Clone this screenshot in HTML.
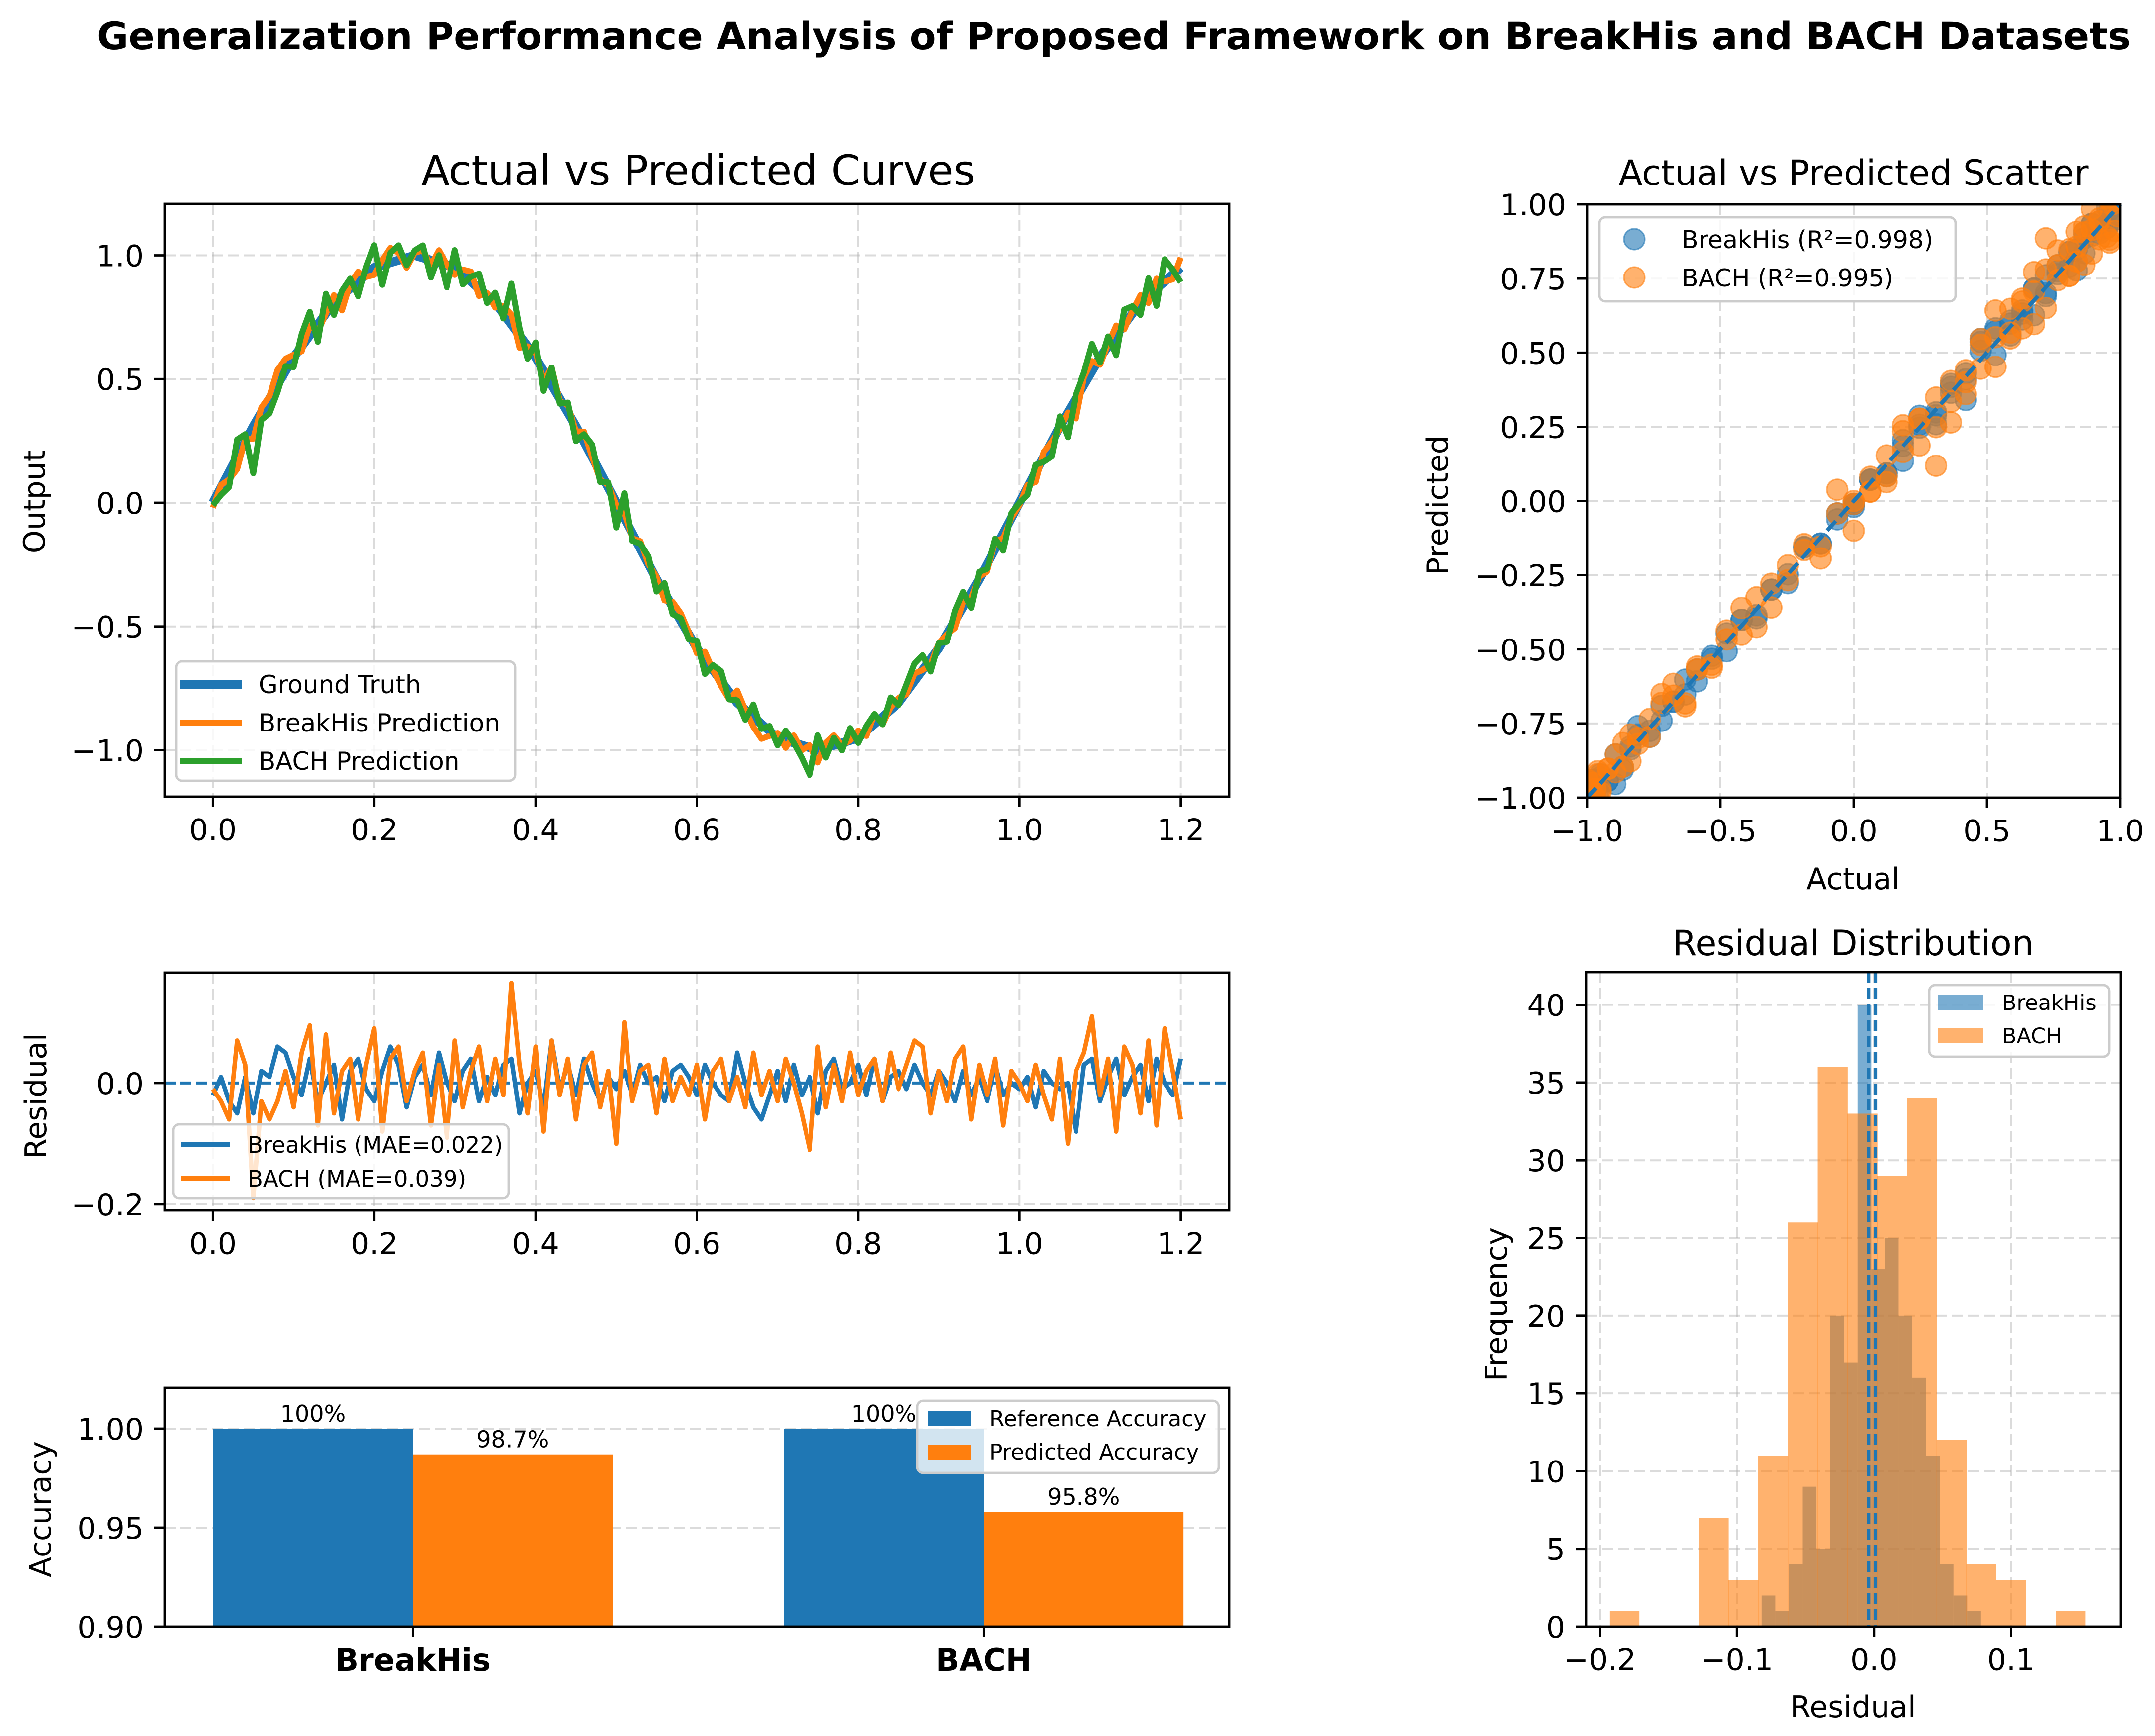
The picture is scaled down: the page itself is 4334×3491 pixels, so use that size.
<!DOCTYPE html>
<html><head><meta charset="utf-8"><title>Generalization Performance Analysis</title>
<style>html,body{margin:0;padding:0;background:#fff;}svg{display:block;font-family:"DejaVu Sans","Liberation Sans",sans-serif;}</style>
</head><body>
<svg id="chart" xmlns="http://www.w3.org/2000/svg" width="4334" height="3491" viewBox="0 0 4334 3491">
<rect x="0" y="0" width="4334" height="3491" fill="#fff"/>
</svg>
<script>
// ---- data ----
const truthVals = [0,0.309,0.588,0.809,0.951,1,0.951,0.809,0.588,0.309,0,-0.309,-0.588,-0.809,-0.951,-1,-0.951,-0.809,-0.588,-0.309,0,0.309,0.588,0.809,0.951];
const truthXMax = 1.2;
const residBreakHis = [-0.02,0.01,-0.03,-0.05,0.01,-0.05,0.02,0.01,0.06,0.05,0.01,-0.02,0.04,-0.03,0.0,0.03,-0.06,0.02,0.04,-0.01,-0.03,0.02,0.06,0.03,-0.04,0.01,0.03,-0.02,0.05,0.0,-0.03,0.02,0.04,-0.03,0.01,-0.02,0.03,0.04,-0.05,0.0,0.02,-0.04,0.07,-0.01,0.03,-0.02,0.04,0.0,-0.03,0.01,-0.01,0.02,-0.02,0.03,0.0,0.01,-0.03,0.02,0.03,0.01,-0.02,0.03,0.0,-0.02,-0.03,0.05,0.0,-0.04,-0.06,-0.02,0.02,-0.03,0.03,-0.02,0.01,-0.05,0.02,0.04,-0.01,0.0,0.03,-0.02,0.04,-0.03,0.01,0.02,-0.01,0.03,0.0,-0.02,0.02,0.0,-0.03,0.02,-0.02,0.01,-0.03,0.03,-0.02,0.0,-0.01,0.01,-0.04,0.02,0.0,-0.01,0.0,-0.08,0.03,0.04,-0.03,0.01,0.04,-0.02,0.01,0.03,-0.03,0.04,0.0,-0.02,0.04];
const residBACH = [-0.01,-0.03,-0.06,0.07,0.03,-0.19,-0.03,-0.06,-0.03,0.02,-0.04,0.05,0.095,-0.07,0.08,-0.05,0.02,0.04,-0.06,0.03,0.09,-0.08,0.04,0.06,-0.03,0.02,0.05,-0.07,0.03,-0.09,0.07,-0.04,0.02,0.06,-0.03,0.04,-0.02,0.165,0.03,-0.05,0.06,-0.08,0.07,-0.02,0.04,-0.06,0.03,0.05,-0.04,0.02,-0.1,0.1,-0.03,0.02,0.03,-0.05,0.04,-0.03,0.01,-0.02,0.03,-0.06,0.02,0.04,-0.03,0.01,-0.04,0.05,-0.02,0.02,-0.03,0.04,0.0,-0.05,-0.11,0.06,-0.04,0.03,-0.03,0.05,-0.02,0.02,0.04,-0.03,0.05,-0.01,0.03,0.07,0.06,-0.05,0.02,-0.03,0.04,0.06,-0.06,0.03,-0.02,0.04,-0.07,0.02,0.0,-0.03,0.03,-0.02,-0.06,0.04,-0.1,0.02,0.05,0.11,-0.02,0.04,-0.08,0.06,0.03,-0.05,0.07,-0.07,0.09,0.02,-0.06];
const barCategories = ["BreakHis","BACH"];
const refAccuracy = [1.0,1.0];
const predAccuracy = [0.987,0.958];
const refLabels = ["100%","100%"];
const predLabels = ["98.7%","95.8%"];
const histBACHStart = -0.193, histBACHWidth = 0.0217;
const histBACHCounts = [1,0,0,7,3,11,26,36,33,29,34,12,4,3,0,1];
const histBHStart = -0.082, histBHWidth = 0.0100;
const histBHCounts = [2,1,4,9,5,20,17,40,23,25,20,16,11,4,2,1];
const histMeans = [-0.004,0.001];
const curveXTicks = [0,0.2,0.4,0.6,0.8,1.0,1.2];
const curveXLabels = ["0.0","0.2","0.4","0.6","0.8","1.0","1.2"];
const curveYTicks = [-1,-0.5,0,0.5,1];
const curveYLabels = ["\u22121.0","\u22120.5","0.0","0.5","1.0"];
const residYTicks = [-0.2,0];
const residYLabels = ["\u22120.2","0.0"];
const barYTicks = [0.90,0.95,1.00];
const barYLabels = ["0.90","0.95","1.00"];
const scXTicks = [-1,-0.5,0,0.5,1];
const scXLabels = ["\u22121.0","\u22120.5","0.0","0.5","1.0"];
const scYTicks = [-1,-0.75,-0.5,-0.25,0,0.25,0.5,0.75,1];
const scYLabels = ["\u22121.00","\u22120.75","\u22120.50","\u22120.25","0.00","0.25","0.50","0.75","1.00"];
const hXTicks = [-0.2,-0.1,0,0.1];
const hXLabels = ["\u22120.2","\u22120.1","0.0","0.1"];
const hYTicks = [0,5,10,15,20,25,30,35,40];
const hYLabels = ["0","5","10","15","20","25","30","35","40"];

// ---- helpers ----
const NS = "http://www.w3.org/2000/svg";
const svg = document.getElementById('chart');
const BLUE = "#1f77b4", ORANGE = "#ff7f0e", GREEN = "#2ca02c";
function mk(tag, attrs, parent){const e=document.createElementNS(NS,tag);for(const k in attrs)e.setAttribute(k,attrs[k]);(parent||svg).appendChild(e);return e;}
function txt(s, attrs, parent){const e=mk('text',attrs,parent);e.textContent=s;return e;}
function axes(box, xd, yd){return {box, x:v=>box.l+(v-xd[0])/(xd[1]-xd[0])*(box.r-box.l), y:v=>box.b-(v-yd[0])/(yd[1]-yd[0])*(box.b-box.t)};}
function truthAt(x){const n=truthVals.length-1;const f=x/truthXMax*n;let i=Math.floor(f);if(i>=n)i=n-1;if(i<0)i=0;const t=f-i;return truthVals[i]*(1-t)+truthVals[i+1]*t;}
function clip(id, box){const c=mk('clipPath',{id});mk('rect',{x:box.l,y:box.t,width:box.r-box.l,height:box.b-box.t},c);return `url(#${id})`;}
const GRID = {stroke:"#b0b0b0","stroke-opacity":0.45,"stroke-width":4,"stroke-dasharray":"22,10",fill:"none"};
function xgrid(ax, ticks, g){for(const t of ticks){const l=mk('line',Object.assign({x1:ax.x(t),x2:ax.x(t),y1:ax.box.t,y2:ax.box.b},GRID),g);

}}
function ygrid(ax, ticks, g){for(const t of ticks){const l=mk('line',Object.assign({y1:ax.y(t),y2:ax.y(t),x1:ax.box.l,x2:ax.box.r},GRID),g);

}}
function frame(ax, g){const r=mk('rect',{x:ax.box.l,y:ax.box.t,width:ax.box.r-ax.box.l,height:ax.box.b-ax.box.t,fill:"none",stroke:"#000","stroke-width":4.8},g);

}
function xticks(ax, ticks, labels, g, fs, bold){const gg=mk('g',{},g);


ticks.forEach((t,i)=>{mk('line',{x1:ax.x(t),x2:ax.x(t),y1:ax.box.b,y2:ax.box.b+21,stroke:"#000","stroke-width":4.8},gg);
const tl=txt(labels[i],{x:ax.x(t),y:ax.box.b+42+(fs||60)*0.76,"font-size":fs||60,"text-anchor":"middle","font-weight":bold?"bold":"normal"},gg);

});}
function yticks(ax, ticks, labels, g){const gg=mk('g',{},g);


ticks.forEach((t,i)=>{mk('line',{x1:ax.box.l-21,x2:ax.box.l,y1:ax.y(t),y2:ax.y(t),stroke:"#000","stroke-width":4.8},gg);
const tl=txt(labels[i],{x:ax.box.l-42,y:ax.y(t)+22,"font-size":60,"text-anchor":"end"},gg);

});}
function ylabel(s, x, y, name){const t=txt(s,{x:x,y:y,"font-size":60,"text-anchor":"middle","dominant-baseline":"central",transform:`rotate(-90 ${x} ${y})`});

}
function legendBox(x,y,w,h,g){const r=mk('rect',{x,y,width:w,height:h,rx:12,fill:"#fff","fill-opacity":0.8,stroke:"#cccccc","stroke-width":4.8},g);

}
function path(pts){return pts.map((p,i)=>(i?'L':'M')+p[0].toFixed(1)+' '+p[1].toFixed(1)).join(' ');}

// ---- main title ----
const mt=txt("Generalization Performance Analysis of Proposed Framework on BreakHis and BACH Datasets",{x:2240,y:99,"font-size":76,"font-weight":"bold","text-anchor":"middle",textLength:4090,lengthAdjust:"spacingAndGlyphs"});



// ---- panel A: curves ----
(function(){
const g=mk('g',{});


const ax=axes({l:331,r:2472,t:410,b:1602},[-0.06,1.26],[-1.188,1.208]);
xgrid(ax,curveXTicks,g);ygrid(ax,curveYTicks,g);
const cp=clip('clipA',ax.box);
const tp=truthVals.map((v,i)=>[ax.x(i/(truthVals.length-1)*truthXMax),ax.y(v)]);
const l1=mk('path',{d:path(tp),fill:"none",stroke:BLUE,"stroke-width":18,"stroke-linejoin":"round","clip-path":cp},g);


const bp=residBreakHis.map((r,i)=>{const x=i/(residBreakHis.length-1)*truthXMax;return [ax.x(x),ax.y(truthAt(x)+r)];});
const l2=mk('path',{d:path(bp),fill:"none",stroke:ORANGE,"stroke-width":12,"stroke-linejoin":"round","clip-path":cp},g);


const cpts=residBACH.map((r,i)=>{const x=i/(residBACH.length-1)*truthXMax;return [ax.x(x),ax.y(truthAt(x)+r)];});
const l3=mk('path',{d:path(cpts),fill:"none",stroke:GREEN,"stroke-width":12,"stroke-linejoin":"round","clip-path":cp},g);


frame(ax,g);xticks(ax,curveXTicks,curveXLabels,g);yticks(ax,curveYTicks,curveYLabels,g);
const t=txt("Actual vs Predicted Curves",{x:1404,y:372,"font-size":84,"text-anchor":"middle",textLength:1114,lengthAdjust:"spacingAndGlyphs"},g);


ylabel("Output",70,1009,'curves-y-axis-title');
const lg=mk('g',{},g);


legendBox(354,1330,682,240,lg);
[["Ground Truth",BLUE,18,1376],["BreakHis Prediction",ORANGE,12,1453],["BACH Prediction",GREEN,12,1530]].forEach(e=>{
mk('line',{x1:362,x2:486,y1:e[3],y2:e[3],stroke:e[1],"stroke-width":e[2]},lg);
const tt=txt(e[0],{x:520,y:e[3]+18,"font-size":50},lg);

});
})();

// ---- panel B: residuals ----
(function(){
const g=mk('g',{});


const ax=axes({l:331,r:2472,t:1956,b:2434},[-0.06,1.26],[-0.210,0.182]);
xgrid(ax,curveXTicks,g);ygrid(ax,residYTicks,g);
const cp=clip('clipB',ax.box);
const z=mk('line',{x1:ax.box.l,x2:ax.box.r,y1:ax.y(0),y2:ax.y(0),stroke:BLUE,"stroke-width":6,"stroke-dasharray":"22,10"},g);


const bp=residBreakHis.map((r,i)=>[ax.x(i/(residBreakHis.length-1)*truthXMax),ax.y(r)]);
const l1=mk('path',{d:path(bp),fill:"none",stroke:BLUE,"stroke-width":9,"stroke-linejoin":"round","clip-path":cp},g);


const op=residBACH.map((r,i)=>[ax.x(i/(residBACH.length-1)*truthXMax),ax.y(r)]);
const l2=mk('path',{d:path(op),fill:"none",stroke:ORANGE,"stroke-width":9,"stroke-linejoin":"round","clip-path":cp},g);


frame(ax,g);xticks(ax,curveXTicks,curveXLabels,g);yticks(ax,residYTicks,residYLabels,g);
ylabel("Residual",73,2204,'residual-y-axis-title');
const lg=mk('g',{},g);


legendBox(348,2261,675,149,lg);
[["BreakHis (MAE=0.022)",BLUE,2302],["BACH (MAE=0.039)",ORANGE,2370]].forEach(e=>{
mk('line',{x1:365,x2:463,y1:e[2],y2:e[2],stroke:e[1],"stroke-width":10},lg);
const tt=txt(e[0],{x:498,y:e[2]+16,"font-size":45},lg);

});
})();

// ---- panel C: bars ----
(function(){
const g=mk('g',{});


const ax=axes({l:331,r:2472,t:2791,b:3271},[-0.435,1.43],[0.90,1.0206]);
ygrid(ax,barYTicks,g);
const w=0.35;
barCategories.forEach((c,i)=>{
const x0=ax.x(i-w),x1=ax.x(i),x2=ax.x(i+w);
const b1=mk('rect',{x:x0,y:ax.y(refAccuracy[i]),width:x1-x0,height:ax.y(0.9)-ax.y(refAccuracy[i]),fill:BLUE},g);


const b2=mk('rect',{x:x1,y:ax.y(predAccuracy[i]),width:x2-x1,height:ax.y(0.9)-ax.y(predAccuracy[i]),fill:ORANGE},g);


const t1=txt(refLabels[i],{x:(x0+x1)/2,y:ax.y(refAccuracy[i])-14,"font-size":46,"text-anchor":"middle"},g);


const t2=txt(predLabels[i],{x:(x1+x2)/2,y:ax.y(predAccuracy[i])-14,"font-size":46,"text-anchor":"middle"},g);


});
frame(ax,g);
xticks(ax,[0,1],barCategories,g,62,true);
yticks(ax,barYTicks,barYLabels,g);
ylabel("Accuracy",82,3035,'accuracy-y-axis-title');
const lg=mk('g',{},g);


legendBox(1845,2817,606,145,lg);
[["Reference Accuracy",BLUE,2853],["Predicted Accuracy",ORANGE,2920]].forEach(e=>{
mk('rect',{x:1867,y:e[2]-15,width:86,height:30,fill:e[1]},lg);
const tt=txt(e[0],{x:1990,y:e[2]+15,"font-size":44},lg);

});
})();

// ---- panel D: scatter ----
(function(){
const g=mk('g',{});


const ax=axes({l:3192,r:4264,t:411,b:1604},[-1,1],[-1,1]);
xgrid(ax,scXTicks,g);ygrid(ax,scYTicks,g);
const cp=clip('clipD',ax.box);
const pg=mk('g',{"clip-path":cp},g);


residBreakHis.forEach((r,i)=>{const x=i/(residBreakHis.length-1)*truthXMax;const a=truthAt(x);
const c=mk('circle',{cx:ax.x(a),cy:ax.y(a+r),r:21,fill:BLUE,"fill-opacity":0.6,stroke:BLUE,"stroke-opacity":0.6,"stroke-width":3},pg);

});
residBACH.forEach((r,i)=>{const x=i/(residBACH.length-1)*truthXMax;const a=truthAt(x);
const c=mk('circle',{cx:ax.x(a),cy:ax.y(a+r),r:21,fill:ORANGE,"fill-opacity":0.6,stroke:ORANGE,"stroke-opacity":0.6,"stroke-width":3},pg);

});
const d=mk('line',{x1:ax.x(-1),y1:ax.y(-1),x2:ax.x(1),y2:ax.y(1),stroke:BLUE,"stroke-width":8,"stroke-dasharray":"26,12"},g);


frame(ax,g);xticks(ax,scXTicks,scXLabels,g);yticks(ax,scYTicks,scYLabels,g);
const t=txt("Actual vs Predicted Scatter",{x:3728,y:372,"font-size":70,"text-anchor":"middle",textLength:945,lengthAdjust:"spacingAndGlyphs"},g);


const xl=txt("Actual",{x:3727,y:1788,"font-size":60,"text-anchor":"middle"},g);


ylabel("Predicted",2892,1016,'scatter-y-axis-title');
const lg=mk('g',{},g);


legendBox(3216,437,717,169,lg);
[["BreakHis (R\u00b2=0.998)",BLUE,481],["BACH (R\u00b2=0.995)",ORANGE,558]].forEach(e=>{
mk('circle',{cx:3287,cy:e[2],r:21,fill:e[1],"fill-opacity":0.6,stroke:e[1],"stroke-opacity":0.6,"stroke-width":3},lg);
const tt=txt(e[0],{x:3382,y:e[2]+18,"font-size":49},lg);

});
})();

// ---- panel E: histogram ----
(function(){
const g=mk('g',{});


const ax=axes({l:3190,r:4265,t:1955,b:3271},[-0.210,0.180],[0,42.1]);
xgrid(ax,hXTicks,g);ygrid(ax,hYTicks,g);
histBHCounts.forEach((c,i)=>{if(!c)return;const x0=histBHStart+i*histBHWidth;
const r=mk('rect',{x:ax.x(x0),y:ax.y(c),width:ax.x(x0+histBHWidth)-ax.x(x0),height:ax.y(0)-ax.y(c),fill:BLUE,"fill-opacity":0.6},g);

});
histBACHCounts.forEach((c,i)=>{if(!c)return;const x0=histBACHStart+i*histBACHWidth;
const r=mk('rect',{x:ax.x(x0),y:ax.y(c),width:ax.x(x0+histBACHWidth)-ax.x(x0)+0.5,height:ax.y(0)-ax.y(c),fill:ORANGE,"fill-opacity":0.6},g);

});
histMeans.forEach(m=>{const l=mk('line',{x1:ax.x(m),x2:ax.x(m),y1:ax.box.t,y2:ax.box.b,stroke:BLUE,"stroke-width":7,"stroke-dasharray":"22,10"},g);

});
frame(ax,g);xticks(ax,hXTicks,hXLabels,g);yticks(ax,hYTicks,hYLabels,g);
const t=txt("Residual Distribution",{x:3727,y:1921,"font-size":70,"text-anchor":"middle"},g);


const xl=txt("Residual",{x:3727,y:3453,"font-size":60,"text-anchor":"middle"},g);


ylabel("Frequency",3010,2623,'histogram-y-axis-title');
const lg=mk('g',{},g);


legendBox(3880,1981,362,144,lg);
[["BreakHis",BLUE,2016],["BACH",ORANGE,2083]].forEach(e=>{
mk('rect',{x:3898,y:e[2]-15,width:90,height:30,fill:e[1],"fill-opacity":0.6},lg);
const tt=txt(e[0],{x:4026,y:e[2]+15,"font-size":43},lg);

});
})();
</script>
</body></html>
